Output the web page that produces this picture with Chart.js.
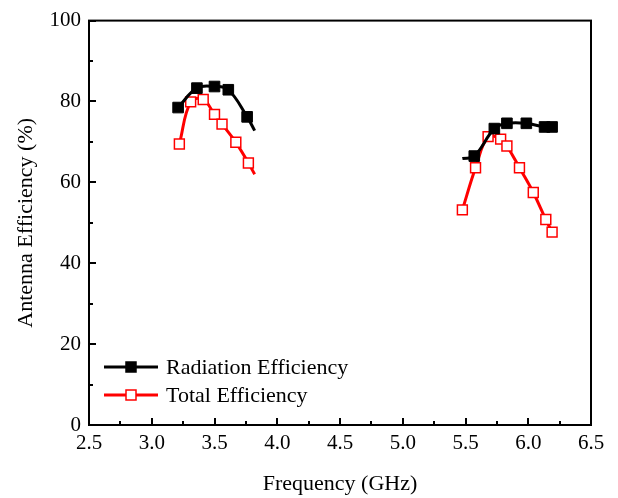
<!DOCTYPE html>
<html>
<head>
<meta charset="utf-8">
<script src="https://cdn.jsdelivr.net/npm/chart.js@4"></script>
<style>
  html, body { margin: 0; padding: 0; background: #fff; }
  #wrap { width: 618px; height: 498px; }
</style>
</head>
<body>
<div id="wrap"><canvas id="effChart" width="618" height="498"></canvas></div>
<script>
// values
const xTicks = [2.5, 3.0, 3.5, 4.0, 4.5, 5.0, 5.5, 6.0, 6.5];
const yTicks = [0, 20, 40, 60, 80, 100];

const radLowFreq  = [3.21, 3.36, 3.50, 3.61, 3.76, 3.82];
const radLowEff   = [78.5, 83.3, 83.7, 82.9, 76.2, 72.8];
const radHighFreq = [5.475, 5.57, 5.73, 5.83, 5.985, 6.13, 6.19];
const radHighEff  = [65.9, 66.5, 73.3, 74.6, 74.6, 73.7, 73.7];
const radLineOnly = [3.82, 5.475];

const totLowFreq  = [3.22, 3.31, 3.41, 3.50, 3.56, 3.67, 3.77, 3.82];
const totLowEff   = [69.5, 79.9, 80.5, 76.8, 74.4, 69.9, 64.8, 62.0];
const totHighFreq = [5.475, 5.58, 5.68, 5.78, 5.83, 5.93, 6.04, 6.14, 6.19];
const totHighEff  = [53.2, 63.6, 71.3, 70.7, 69.0, 63.6, 57.5, 50.8, 47.7];
const totLineOnly = [3.82];

const seriesNames = ['Radiation Efficiency', 'Total Efficiency'];

function bands(f1, v1, f2, v2) {
  const pts = f1.map((f, i) => ({ x: f, y: v1[i] }));
  pts.push({ x: 4.6, y: null }); // gap between the two bands
  return pts.concat(f2.map((f, i) => ({ x: f, y: v2[i] })));
}

const serif = '"Liberation Serif", "Times New Roman", serif';

// box round the plot and inward ticks
const framePlugin = {
  id: 'frame',
  beforeDatasetsDraw(chart) {
    const { ctx, chartArea: a, scales } = chart;
    ctx.save();
    ctx.strokeStyle = '#000';
    ctx.lineWidth = 2;
    ctx.beginPath();
    for (let v = 2.5; v <= 6.5001; v += 0.25) {
      const px = Math.round(scales.x.getPixelForValue(v));
      const len = Math.abs((v * 2) % 1) < 0.01 ? 7 : 4;
      ctx.moveTo(px, a.bottom);
      ctx.lineTo(px, a.bottom - len);
    }
    for (let v = 0; v <= 100; v += 10) {
      const py = Math.round(scales.y.getPixelForValue(v));
      const len = v % 20 === 0 ? 7 : 4;
      ctx.moveTo(a.left, py);
      ctx.lineTo(a.left + len, py);
    }
    ctx.stroke();
    ctx.strokeRect(a.left, a.top, a.right - a.left, a.bottom - a.top);
    ctx.restore();
  }
};

// legend in the lower left corner of the plot
const legendPlugin = {
  id: 'cornerLegend',
  afterDatasetsDraw(chart) {
    const ctx = chart.ctx;
    const rows = [
      { y: 367, color: '#000', fill: '#000' },
      { y: 395, color: '#ff0000', fill: '#fff' }
    ];
    ctx.save();
    rows.forEach((r, i) => {
      ctx.strokeStyle = r.color;
      ctx.lineWidth = 3;
      ctx.beginPath();
      ctx.moveTo(104, r.y);
      ctx.lineTo(158, r.y);
      ctx.stroke();
      ctx.fillStyle = r.fill;
      ctx.fillRect(126, r.y - 5, 10, 10);
      ctx.lineWidth = 1.5;
      ctx.strokeRect(126, r.y - 5, 10, 10);
      ctx.fillStyle = '#000';
      ctx.font = '22px ' + serif;
      ctx.textBaseline = 'middle';
      ctx.fillText(seriesNames[i], 166, r.y + 1);
    });
    ctx.restore();
  }
};

new Chart(document.getElementById('effChart'), {
  type: 'line',
  data: {
    datasets: [
      {
        label: seriesNames[0],
        data: bands(radLowFreq, radLowEff, radHighFreq, radHighEff),
        borderColor: '#000',
        backgroundColor: '#000',
        borderWidth: 3,
        tension: 0.4,
        pointStyle: 'rect',
        pointRadius: ctx => (ctx.raw && radLineOnly.includes(ctx.raw.x)) ? 0 : 7.5,
        pointBorderWidth: 1,
        pointBorderColor: '#000',
        pointBackgroundColor: '#000'
      },
      {
        label: seriesNames[1],
        data: bands(totLowFreq, totLowEff, totHighFreq, totHighEff),
        borderColor: '#ff0000',
        backgroundColor: '#fff',
        borderWidth: 3,
        tension: 0.4,
        pointStyle: 'rect',
        pointRadius: ctx => (ctx.raw && totLineOnly.includes(ctx.raw.x)) ? 0 : 7,
        pointBorderWidth: 1.5,
        pointBorderColor: '#ff0000',
        pointBackgroundColor: '#fff'
      }
    ]
  },
  options: {
    responsive: false,
    animation: false,
    spanGaps: false,
    layout: { padding: { left: 0, top: 15, right: 27, bottom: 0 } },
    plugins: { legend: { display: false }, tooltip: { enabled: false } },
    scales: {
      x: {
        type: 'linear',
        min: 2.5, max: 6.5,
        afterBuildTicks: s => { s.ticks = xTicks.map(v => ({ value: v })); },
        afterFit: s => { s.height = 73; },
        grid: { display: false, drawTicks: false },
        border: { display: false },
        ticks: {
          padding: 6,
          color: '#000',
          font: { family: serif, size: 21 },
          callback: v => v.toFixed(1)
        },
        title: {
          display: true,
          text: 'Frequency (GHz)',
          color: '#000',
          font: { family: serif, size: 22 },
          padding: { top: 0, bottom: 1 }
        }
      },
      y: {
        min: 0, max: 100,
        afterBuildTicks: s => { s.ticks = yTicks.map(v => ({ value: v })); },
        afterFit: s => { s.width = 89; },
        grid: { display: false, drawTicks: false },
        border: { display: false },
        ticks: {
          padding: 8,
          color: '#000',
          font: { family: serif, size: 21 }
        },
        title: {
          display: true,
          text: 'Antenna Efficiency (%)',
          color: '#000',
          font: { family: serif, size: 22 },
          padding: { top: 13, bottom: 0 }
        }
      }
    }
  },
  plugins: [framePlugin, legendPlugin]
});
</script>
</body>
</html>
